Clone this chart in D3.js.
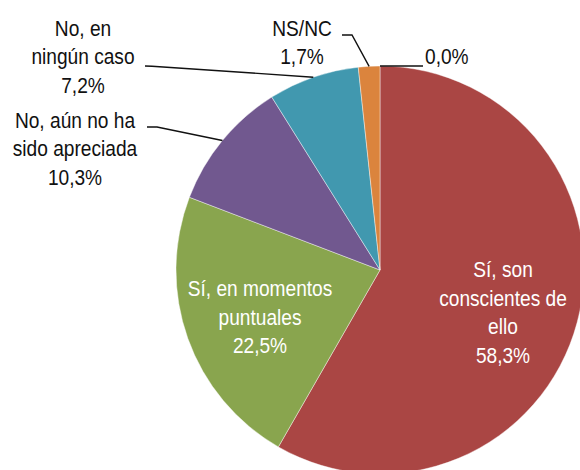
<!DOCTYPE html>
<html>
<head>
<meta charset="utf-8">
<script src="https://cdn.jsdelivr.net/npm/d3@7"></script>
<style>
  html, body { margin: 0; padding: 0; background: #fff; }
  svg { display: block; }
  text { font-family: "Liberation Sans", Arial, sans-serif; font-size: 21.5px; }
</style>
</head>
<body>
<svg id="chart" width="580" height="470"></svg>
<script>
// ---- data ----
const categories = [
  "Sí, son conscientes de ello",
  "Sí, en momentos puntuales",
  "No, aún no ha sido apreciada",
  "No, en ningún caso",
  "NS/NC",
  ""
];
const values = [58.3, 22.5, 10.3, 7.2, 1.7, 0.0];
const valueLabels = ["58,3%", "22,5%", "10,3%", "7,2%", "1,7%", "0,0%"];
const labelLines = [
  ["Sí, son", "conscientes de", "ello", "58,3%"],
  ["Sí, en momentos", "puntuales", "22,5%"],
  ["No, aún no ha", "sido apreciada", "10,3%"],
  ["No, en", "ningún caso", "7,2%"],
  ["NS/NC", "1,7%"],
  ["0,0%"]
];
const colors = ["#AA4644", "#89A54E", "#71588F", "#4198AF", "#DB843D", "#93A9CF"];

// ---- layout (not data) ----
const cx = 380, cy = 270, R = 204;
const lineH = 28.6;
const narrow = 0.89; // horizontal condensing to mimic a narrow face
const labelLayout = [
  { x: 503, y: 277, anchor: "middle", inside: true },
  { x: 260, y: 296, anchor: "middle", inside: true },
  { x: 75,  y: 127.5, anchor: "middle", inside: false, start: [147, 127], knee: [157, 127] },
  { x: 83,  y: 35.7, anchor: "middle", inside: false, start: [145, 66], knee: [152, 66.2] },
  { x: 302, y: 35.5, anchor: "middle", inside: false, start: [342, 35], knee: [352, 35] },
  { x: 425, y: 64, anchor: "start", inside: false, start: [423, 66], knee: [423, 66] }
];

const data = categories.map((c, i) => ({ name: c, value: values[i], label: valueLabels[i], lines: labelLines[i], color: colors[i], layout: labelLayout[i] }));

const svg = d3.select("#chart");
const g = svg.append("g").attr("transform", `translate(${cx},${cy})`);

const pie = d3.pie().sort(null).value(d => d.value).startAngle(0).endAngle(2 * Math.PI);
const arc = d3.arc().innerRadius(0).outerRadius(R);
const arcs = pie(data);

g.selectAll("path.slice")
  .data(arcs.filter(a => a.data.value > 0))
  .join("path")
  .attr("class", "slice")
  .attr("d", arc)
  .attr("fill", d => d.data.color)
  .attr("stroke", "#ffffff")
  .attr("stroke-width", 0.6)
  .attr("stroke-opacity", 0.7);

// leader lines (outer labels)
const lineGen = d3.line();
arcs.forEach(a => {
  const L = a.data.layout;
  if (L.inside) return;
  const mid = (a.startAngle + a.endAngle) / 2;
  const px = cx + R * Math.sin(mid);
  const py = cy - R * Math.cos(mid);
  svg.append("path")
    .attr("d", lineGen([L.start, L.knee, [px, py]]))
    .attr("fill", "none")
    .attr("stroke", "#111")
    .attr("stroke-width", 1.4);
});

// labels
arcs.forEach(a => {
  const L = a.data.layout;
  const t = svg.append("text")
    .attr("transform", `translate(${L.x},${L.y}) scale(${narrow},1)`)
    .attr("text-anchor", L.anchor)
    .attr("fill", L.inside ? "#ffffff" : "#111111");
  a.data.lines.forEach((ln, k) => {
    t.append("tspan")
      .attr("x", 0)
      .attr("y", k * lineH)
      .text(ln);
  });
});
</script>
</body>
</html>
